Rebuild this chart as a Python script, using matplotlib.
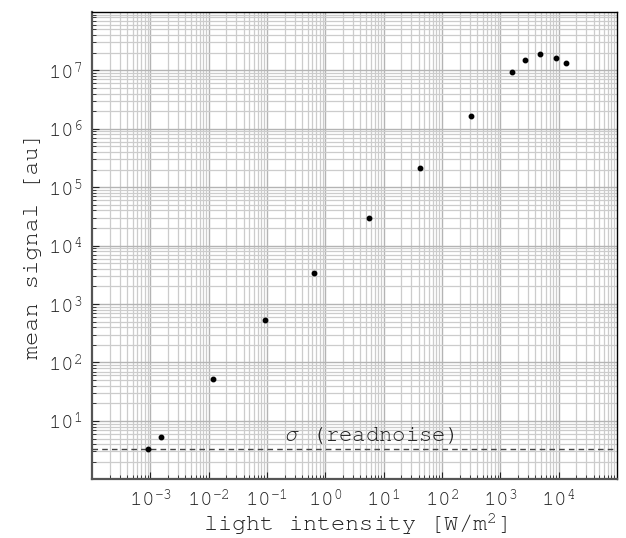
import numpy as np
import matplotlib
matplotlib.use("Agg")
import matplotlib.pyplot as plt
from matplotlib import font_manager
from matplotlib.ticker import LogLocator, NullFormatter

# measured light intensity [W/m^2] and mean signal [au]
intensity = [9.1e-4, 1.52e-3, 1.18e-2, 9.4e-2, 0.65, 5.6, 42.0, 320.0,
             1620.0, 2670.0, 4820.0, 9060.0, 13200.0]
signal = [3.3, 5.4, 52.0, 530.0, 3340.0, 29200.0, 214000.0, 1.66e6,
          9.2e6, 1.49e7, 1.91e7, 1.61e7, 1.31e7]
readnoise = 3.3

# pick a Courier-like monospace font if one is installed
installed = {f.name for f in font_manager.fontManager.ttflist}
mono = 'Liberation Mono'
for name in ['Courier New', 'Nimbus Mono PS', 'FreeMono', 'Liberation Mono']:
    if name in installed:
        mono = name
        break

plt.rcParams['font.family'] = [mono, 'DejaVu Sans Mono']
plt.rcParams['mathtext.fontset'] = 'custom'
plt.rcParams['mathtext.rm'] = mono
plt.rcParams['mathtext.it'] = mono + ':italic'
plt.rcParams['mathtext.bf'] = mono + ':bold'

fig = plt.figure(figsize=(6.26, 5.38), dpi=100)
ax = fig.add_axes([0.147, 0.109, 0.8385, 0.869])

ax.set_xscale('log')
ax.set_yscale('log')
ax.set_xlim(1e-4, 1e5)
ax.set_ylim(1, 1e8)

ax.set_xticks([1e-3, 1e-2, 1e-1, 1e0, 1e1, 1e2, 1e3, 1e4])
ax.set_yticks([1e1, 1e2, 1e3, 1e4, 1e5, 1e6, 1e7])
for axis in [ax.xaxis, ax.yaxis]:
    axis.set_minor_locator(LogLocator(base=10, subs=np.arange(2, 10), numticks=100))
    axis.set_minor_formatter(NullFormatter())

ax.grid(True, which='major', color='#b4b4b4', linewidth=1.0)
ax.grid(True, which='minor', color='#cccccc', linewidth=0.9)
ax.set_axisbelow(True)

ax.plot(intensity, signal, 'o', color='black', markersize=3.2, zorder=3)
ax.axhline(readnoise, color='#444444', linestyle='--', linewidth=1.0, dashes=(4, 3))
ax.text(0.2, readnoise * 1.12, r'$\sigma$ (readnoise)', fontsize=16,
        color='#222222', ha='left', va='bottom')

ax.tick_params(which='both', direction='in', labelsize=15, colors='#222222')
ax.tick_params(which='major', length=5, pad=7)
ax.tick_params(which='minor', length=3)

for side in ['left', 'bottom']:
    ax.spines[side].set_color('#555555')
    ax.spines[side].set_linewidth(1.6)
for side in ['top', 'right']:
    ax.spines[side].set_color('black')
    ax.spines[side].set_linewidth(1.0)

ax.set_xlabel(r'light intensity [W/m$^2$]', fontsize=17, color='#222222', labelpad=1)
ax.set_ylabel('mean signal [au]', fontsize=17, color='#222222')

fig.savefig('out.png', dpi=100)
